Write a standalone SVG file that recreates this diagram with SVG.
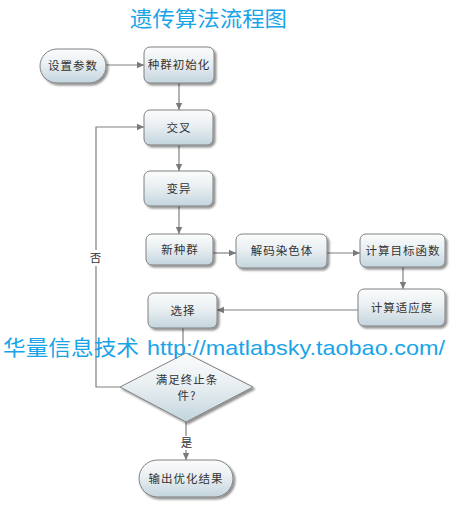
<svg xmlns="http://www.w3.org/2000/svg" width="454" height="511" viewBox="0 0 454 511">
<defs>
<linearGradient id="g" x1="0" y1="0" x2="0" y2="1">
<stop offset="0" stop-color="#fbfcfc"/>
<stop offset="0.45" stop-color="#e9eff2"/>
<stop offset="1" stop-color="#c3d5de"/>
</linearGradient>
<filter id="sh" x="-20%" y="-20%" width="150%" height="160%">
<feGaussianBlur in="SourceAlpha" stdDeviation="1.2"/>
<feOffset dx="1.5" dy="2" result="o"/>
<feComponentTransfer><feFuncA type="linear" slope="0.45"/></feComponentTransfer>
<feMerge><feMergeNode/><feMergeNode in="SourceGraphic"/></feMerge>
</filter>
<marker id="ar" markerWidth="8" markerHeight="8" refX="7" refY="4" orient="auto" markerUnits="userSpaceOnUse">
<path d="M0,0.8 L7,4 L0,7.2 Z" fill="#7a7a7a"/>
</marker>
</defs>
<style>
.n{fill:url(#g);stroke:#808080;stroke-width:1;filter:url(#sh)}
.t{font-family:"Noto Sans CJK SC","Noto Sans CJK TC",sans-serif;font-size:11.5px;fill:#333;text-anchor:middle;letter-spacing:1px}
.c{fill:none;stroke:#808080;stroke-width:1.2;marker-end:url(#ar)}
.l{fill:none;stroke:#808080;stroke-width:1.2}
.blue{font-family:"Noto Sans CJK SC",sans-serif;fill:#1aa4e8}
</style>
<rect width="454" height="511" fill="#fff"/>
<text class="blue" x="130" y="26" font-size="21" textLength="157" lengthAdjust="spacingAndGlyphs">遗传算法流程图</text>

<g id="connectors">
<path class="c" d="M106,65 H144"/>
<path class="c" d="M179,83 V110"/>
<path class="c" d="M179,145 V171"/>
<path class="c" d="M179,206 V234"/>
<path class="c" d="M213,253 H236"/>
<path class="c" d="M327,253 H360"/>
<path class="c" d="M403,267 V289"/>
<path class="c" d="M358,310 H217"/>
<path class="l" d="M183,328 V353"/>
<path class="c" d="M120,387 H96 V127 H144"/>
<path class="l" d="M186,422 V436"/>
<path class="c" d="M186,450 V460"/>
<rect x="89" y="250" width="14" height="16" fill="#fff"/>
<text class="t" x="96" y="262">否</text>
<text class="t" x="187" y="447">是</text>
</g>

<g id="n1"><rect class="n" x="40" y="49" width="66" height="34" rx="17"/><text class="t" x="73" y="70">设置参数</text></g>
<g id="n2"><rect class="n" x="144" y="47" width="70" height="36" rx="6"/><text class="t" x="179" y="69">种群初始化</text></g>
<g id="n3"><rect class="n" x="144" y="110" width="69" height="35" rx="6"/><text class="t" x="179" y="132">交叉</text></g>
<g id="n4"><rect class="n" x="144" y="171" width="69" height="35" rx="6"/><text class="t" x="179" y="193">变异</text></g>
<g id="n5"><rect class="n" x="146" y="234" width="67" height="31" rx="6"/><text class="t" x="180" y="254">新种群</text></g>
<g id="n6"><rect class="n" x="236" y="234" width="91" height="34" rx="6"/><text class="t" x="282" y="255">解码染色体</text></g>
<g id="n7"><rect class="n" x="360" y="234" width="85" height="33" rx="6"/><text class="t" x="403" y="255">计算目标函数</text></g>
<g id="n8"><rect class="n" x="358" y="289" width="87" height="37" rx="6"/><text class="t" x="402" y="312">计算适应度</text></g>
<g id="n9"><rect class="n" x="148" y="293" width="69" height="35" rx="6"/><text class="t" x="183" y="315">选择</text></g>
<g id="n10"><path class="n" d="M186,353 L253,387 L186,422 L120,387 Z"/><text class="t" x="187" y="384">满足终止条</text><text class="t" x="187" y="400">件?</text></g>
<g id="n11"><rect class="n" x="139" y="460" width="94" height="37" rx="18.5"/><text class="t" x="186" y="483">输出优化结果</text></g>

<text class="blue" x="3" y="355" font-size="21"><tspan textLength="136" lengthAdjust="spacingAndGlyphs">华量信息技术</tspan><tspan font-family="Liberation Sans,Arial,sans-serif" x="147" textLength="298" lengthAdjust="spacingAndGlyphs">http://matlabsky.taobao.com/</tspan></text>
</svg>
